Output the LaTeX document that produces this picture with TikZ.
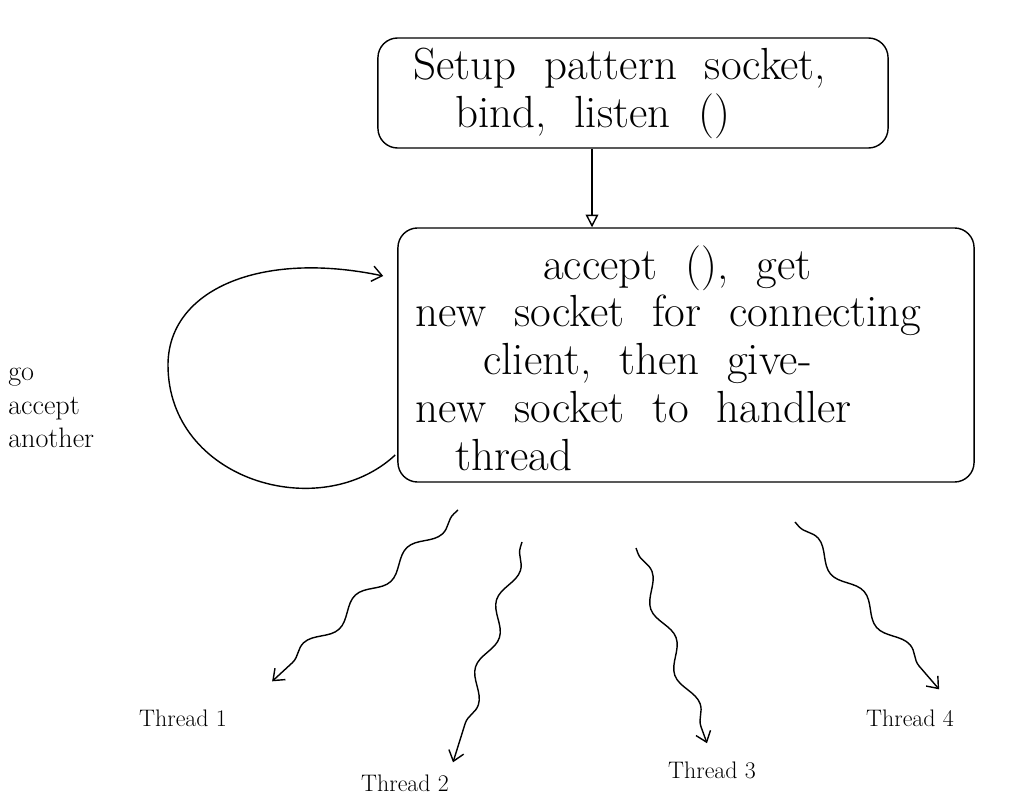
\documentclass[tikz,border=0pt]{standalone}
\usetikzlibrary{arrows.meta,decorations.pathmorphing,calc}
\newcommand\bigfnt{\fontsize{32}{34}\selectfont\spaceskip=0.62em plus 0.1em minus 0.05em\relax}
\begin{document}
\begin{tikzpicture}[x=0.025cm,y=-0.025cm,
  box/.style={draw,line width=1pt,rounded corners=14pt,inner sep=0pt},
  bigtext/.style={anchor=west,align=left,inner sep=0pt,font=\bigfnt},
  smalltext/.style={inner sep=0pt,font=\fontsize{17}{21}\selectfont},
  flow/.style={line width=1pt,-{Straight Barb[length=7pt,width=11pt,line width=1pt]}},
  down/.style={line width=1pt,-{Triangle[open,length=9pt,width=9pt,line width=1pt]}},
  wave/.style={line width=1pt,decorate,
    decoration={snake,amplitude=5pt,segment length=50pt,pre length=4pt,post length=10pt},
    -{Straight Barb[length=7pt,width=11pt,line width=1pt]}}
]
\useasboundingbox (0,0) rectangle (1020,800);

% top box
\node[box,minimum width=12.75cm,minimum height=2.75cm] (setup) at (633,93) {};
\node[bigtext] (setuptext) at (413,93) {Setup pattern socket,\\\hspace*{1.05cm}bind, listen ()};

% main box
\node[box,minimum width=14.4cm,minimum height=6.35cm] (accept) at (686,355) {};
\node[bigtext] (accepttext) at (415,358) {\hspace*{3.2cm}accept (), get\\
new socket for connecting\\
\hspace*{1.7cm}client, then give-\\
new socket to handler\\
\hspace*{1cm}thread};

% arrow top -> main
\coordinate (ax) at (592,0);
\draw[down] (setup.south -| ax) -- (accept.north -| ax);

% loop
\node[anchor=west,align=left,inner sep=0pt,font=\fontsize{20}{24}\selectfont] (goacc) at (8,408) {go\\accept\\another};
\coordinate (ls) at ($(accept.west)+(-2,100)$);
\coordinate (le) at ($(accept.west)+(-14,-79)$);
\draw[flow] (ls) .. controls (320,525) and (168,480) .. (168,365)
  .. controls (168,290) and (260,250) .. (le);

% threads
\node[smalltext] (t1) at (183,718) {Thread 1};
\node[smalltext] (t2) at (405,783) {Thread 2};
\node[smalltext] (t3) at (712,770) {Thread 3};
\node[smalltext] (t4) at (910,718) {Thread 4};

\coordinate (s1) at (458,510);
\coordinate (s2) at (522,542);
\coordinate (s3) at (636,548);
\coordinate (s4) at (795,522);
\coordinate (e1) at ($(t1.north east)+(45,-28)$);
\coordinate (e2) at ($(t2.north)+(48,-12)$);
\coordinate (e3) at ($(t3.north)+(-5,-18)$);
\coordinate (e4) at ($(t4.north east)+(-15,-20)$);
\draw[wave] (s1) -- (e1);
\draw[wave] (s2) -- (e2);
\draw[wave] (s3) -- (e3);
\draw[wave] (s4) -- (e4);
\end{tikzpicture}
\end{document}
